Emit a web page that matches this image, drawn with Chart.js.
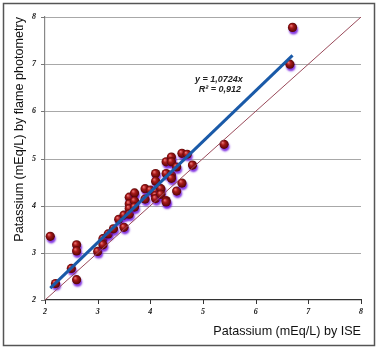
<!DOCTYPE html>
<html>
<head>
<meta charset="utf-8">
<script src="https://cdn.jsdelivr.net/npm/chart.js@4/dist/chart.umd.min.js"></script>
<style>
html,body{margin:0;padding:0;background:#fff;}
#wrap{width:380px;height:348px;}
</style>
</head>
<body>
<div id="wrap"><canvas id="c" width="380" height="348"></canvas></div>
<script>
// ---- data ----
const iseValues   = [2.1, 2.2, 2.5, 2.6, 2.6, 2.6, 3.0, 3.1, 3.1, 3.2, 3.3, 3.4, 3.5, 3.5, 3.6, 3.6, 3.6, 3.6, 3.7, 3.7, 3.7, 3.9, 3.9, 4.0, 4.1, 4.1, 4.1, 4.1, 4.1, 4.2, 4.2, 4.3, 4.3, 4.3, 4.3, 4.4, 4.4, 4.4, 4.4, 4.5, 4.5, 4.6, 4.6, 4.7, 4.8, 5.4, 6.65, 6.7];
const flameValues = [3.35, 2.35, 2.67, 3.17, 3.04, 2.43, 3.03, 3.30, 3.17, 3.40, 3.51, 3.71, 3.54, 3.80, 4.18, 4.04, 3.94, 3.82, 4.27, 4.10, 3.97, 4.36, 4.14, 4.33, 4.68, 4.52, 4.30, 4.22, 4.15, 4.36, 4.24, 4.11, 4.08, 4.93, 4.68, 5.03, 4.93, 4.65, 4.58, 4.82, 4.31, 5.11, 4.48, 5.09, 4.86, 5.30, 7.00, 7.78];
const trendSlope = 1.0724;
const trendR2 = 0.912;
const trendRange = [2.1, 6.7];
const identityRange = [2, 8];
const axisTicks = [2, 3, 4, 5, 6, 7, 8];
const xTitle = 'Patassium (mEq/L) by ISE';
const yTitle = 'Patassium (mEq/L) by flame photometry';
const eqLabel = 'y = ' + trendSlope.toString().replace('.', ',') + 'x';
const r2Label = 'R² = ' + trendR2.toString().replace('.', ',');

const points = iseValues.map((x, i) => ({x: x, y: flameValues[i]}));
const trendData = trendRange.map(x => ({x: x, y: trendSlope * x}));
const identityData = identityRange.map(v => ({x: v, y: v}));

function sphere(ctx) {
  const c = ctx.chart;
  const xs = c.scales && c.scales.x, ys = c.scales && c.scales.y;
  if (!ctx.parsed || !xs || !ys) return '#8b1a1a';
  const px = xs.getPixelForValue(ctx.parsed.x), py = ys.getPixelForValue(ctx.parsed.y);
  if (!isFinite(px) || !isFinite(py)) return '#8b1a1a';
  const g = c.ctx.createRadialGradient(px - 1.5, py - 1.8, 0.3, px, py, 5);
  g.addColorStop(0, '#e87070');
  g.addColorStop(0.35, '#a81a1a');
  g.addColorStop(1, '#4a0000');
  return g;
}

// horizontal grid lines and tick marks, placed through the chart's own scales
const gridPlugin = {
  id: 'gridLines',
  beforeDatasetsDraw(chart) {
    const ctx = chart.ctx, a = chart.chartArea;
    const xs = chart.scales.x, ys = chart.scales.y;
    ctx.save();
    ctx.lineWidth = 1;
    ctx.strokeStyle = '#a8a8a8';
    axisTicks.forEach(v => {
      const y = Math.round(ys.getPixelForValue(v)) + 0.5;
      if (v !== axisTicks[0]) {
        ctx.beginPath(); ctx.moveTo(a.left, y); ctx.lineTo(a.right, y); ctx.stroke();
      }
      ctx.strokeStyle = '#777';
      ctx.beginPath(); ctx.moveTo(a.left - 4, y); ctx.lineTo(a.left, y); ctx.stroke();
      ctx.strokeStyle = '#a8a8a8';
    });
    ctx.strokeStyle = '#333';
    axisTicks.forEach(v => {
      const x = Math.round(xs.getPixelForValue(v)) + 0.5;
      ctx.beginPath(); ctx.moveTo(x, a.bottom); ctx.lineTo(x, a.bottom + 4); ctx.stroke();
    });
    ctx.restore();
  }
};

const shadowPlugin = {
  id: 'shadow',
  beforeDatasetDraw(chart, args) {
    if (args.index === 0) {
      const ctx = chart.ctx;
      ctx.save();
      ctx.shadowColor = 'rgba(110,20,220,0.85)';
      ctx.shadowOffsetX = 1;
      ctx.shadowOffsetY = 2.5;
      ctx.shadowBlur = 2;
    }
  },
  afterDatasetDraw(chart, args) {
    if (args.index === 0) chart.ctx.restore();
  }
};

const extrasPlugin = {
  id: 'extras',
  afterDraw(chart) {
    const ctx = chart.ctx;
    const xs = chart.scales.x, ys = chart.scales.y;
    ctx.save();
    ctx.fillStyle = '#222';
    ctx.font = 'italic bold 9px "Liberation Sans", Arial, sans-serif';
    ctx.textAlign = 'center';
    ctx.textBaseline = 'middle';
    const lx = xs.getPixelForValue(5.3);
    ctx.fillText(eqLabel, lx, ys.getPixelForValue(6.68));
    ctx.fillText(r2Label, lx + 1, ys.getPixelForValue(6.47));
    ctx.strokeStyle = '#555';
    ctx.lineWidth = 1.5;
    ctx.strokeRect(3.5, 3.5, 371, 342);
    ctx.restore();
  }
};

const tickFont = {family: '"Liberation Serif", "Times New Roman", serif', size: 8, style: 'italic', weight: 'bold'};
const titleFont = {family: '"Liberation Sans", Arial, sans-serif', size: 12.6};

new Chart(document.getElementById('c'), {
  type: 'scatter',
  data: {
    datasets: [
      {
        label: 'points',
        data: points,
        order: 3,
        pointRadius: 4.6,
        pointBackgroundColor: sphere,
        pointBorderWidth: 0,
        pointBorderColor: 'rgba(0,0,0,0)'
      },
      {
        label: 'identity',
        type: 'line',
        data: identityData,
        order: 2,
        borderColor: '#9a4a5a',
        borderWidth: 1,
        pointRadius: 0,
        fill: false
      },
      {
        label: 'trend',
        type: 'line',
        data: trendData,
        order: 1,
        borderColor: '#1a5aa8',
        borderWidth: 3,
        pointRadius: 0,
        fill: false
      }
    ]
  },
  options: {
    responsive: false,
    animation: false,
    devicePixelRatio: 1,
    layout: {padding: {left: 0, right: 19, top: 17, bottom: 0}},
    plugins: {legend: {display: false}, tooltip: {enabled: false}},
    scales: {
      x: {
        type: 'linear',
        min: 2, max: 8,
        afterBuildTicks: s => { s.ticks = axisTicks.map(v => ({value: v})); },
        afterFit: s => { s.height = 48; },
        ticks: {font: tickFont, color: '#111', padding: 7, maxRotation: 0},
        grid: {display: false, drawTicks: false},
        border: {color: '#333', width: 1.2},
        title: {display: true, text: xTitle, align: 'end', color: '#111',
                font: titleFont, padding: {top: 4, bottom: 9}}
      },
      y: {
        type: 'linear',
        min: 2, max: 8,
        afterBuildTicks: s => { s.ticks = axisTicks.map(v => ({value: v})); },
        afterFit: s => { s.width = 45; },
        ticks: {font: tickFont, color: '#111', padding: 9},
        grid: {display: false, drawTicks: false},
        border: {color: '#888', width: 1.2},
        title: {display: true, text: yTitle, align: 'end', color: '#111',
                font: titleFont, padding: {top: 12, bottom: 0}}
      }
    }
  },
  plugins: [gridPlugin, shadowPlugin, extrasPlugin]
});
</script>
</body>
</html>
